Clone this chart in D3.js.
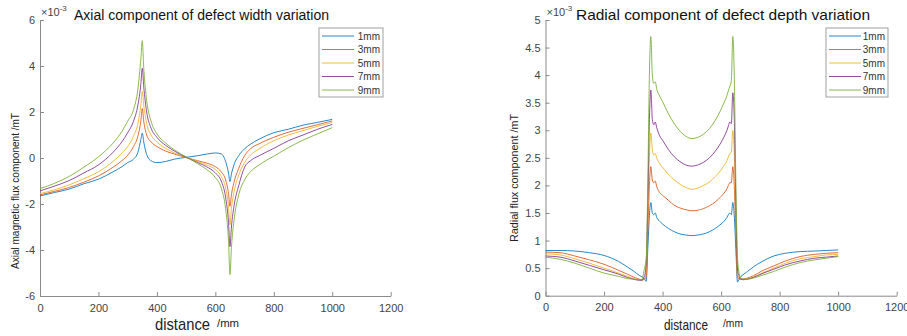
<!DOCTYPE html>
<html>
<head>
  <meta charset="utf-8">
  <title>Defect flux components</title>
  <script src="https://d3js.org/d3.v7.min.js"></script>
  <style>
    body { margin: 0; background: #fff; }
    svg { font-family: "Liberation Sans", Arial, sans-serif; }
    .axis path, .axis line { stroke: #8a8a8a; }
    .axis text { fill: #444; font-size: 11px; }
    .line { fill: none; stroke-width: 1; stroke-opacity: 0.85; }
    .legend-box { fill: #fff; stroke: #a0a0a0; stroke-width: 1; }
  </style>
</head>
<body>
  <svg width="907" height="336"></svg>
  <script>
    const seriesNames = ["1mm", "3mm", "5mm", "7mm", "9mm"]
    const colors = ["#0072BD", "#D95319", "#EDB120", "#7E2F8E", "#77AC30"]

    // left panel: axial component, defect width
    const axialX = [0, 50, 100, 150, 200, 250, 280, 300, 320, 335, 345, 350, 355, 365, 380, 400, 430, 460, 500,
      540, 570, 600, 620, 635, 645, 650, 655, 665, 680, 700, 720, 750, 800, 850, 900, 950, 1000]
    const axial1 = [-1.65, -1.5, -1.35, -1.12, -0.92, -0.6, -0.38, -0.2, -0.05, 0.25, 0.8, 1.08, 0.7, 0.15, -0.12, -0.2, -0.15, -0.05, 0.03,
      0.1, 0.17, 0.22, 0.18, -0.15, -0.65, -1.03, -0.7, -0.25, 0.1, 0.4, 0.6, 0.82, 1.1, 1.25, 1.43, 1.55, 1.68]
    const axial3 = [-1.6, -1.45, -1.28, -1.05, -0.78, -0.4, -0.12, 0.12, 0.5, 0.95, 1.6, 2.15, 1.6, 1.0, 0.7, 0.5, 0.3, 0.17, 0.02,
      -0.12, -0.22, -0.38, -0.6, -0.95, -1.55, -2.1, -1.6, -1.0, -0.45, 0.1, 0.4, 0.62, 0.9, 1.12, 1.29, 1.45, 1.61]
    const axial5 = [-1.55, -1.38, -1.17, -0.9, -0.6, -0.15, 0.2, 0.5, 0.95, 1.5, 2.3, 2.9, 2.3, 1.5, 1.0, 0.7, 0.42, 0.22, 0.02,
      -0.15, -0.3, -0.5, -0.8, -1.3, -2.1, -2.9, -2.2, -1.4, -0.75, -0.2, 0.12, 0.4, 0.75, 1.0, 1.19, 1.38, 1.54]
    const axial7 = [-1.43, -1.22, -0.98, -0.65, -0.3, 0.25, 0.7, 1.1, 1.6, 2.3, 3.2, 3.9, 3.1, 2.0, 1.3, 0.9, 0.55, 0.3, 0.03,
      -0.2, -0.38, -0.65, -1.0, -1.7, -2.8, -3.85, -3.0, -2.0, -1.2, -0.4, -0.12, 0.1, 0.42, 0.75, 1.0, 1.25, 1.46]
    const axial9 = [-1.33, -1.1, -0.8, -0.4, 0.05, 0.65, 1.15, 1.6, 2.1, 3.0, 4.3, 5.1, 3.9, 2.5, 1.6, 1.05, 0.65, 0.35, 0.05,
      -0.25, -0.5, -0.85, -1.3, -2.2, -3.6, -5.07, -3.9, -2.6, -1.6, -0.95, -0.6, -0.3, 0.08, 0.45, 0.78, 1.05, 1.32]
    const axialTicks = [-6, -4, -2, 0, 2, 4, 6]

    // right panel: radial component, defect depth
    const radialX = [0, 50, 100, 150, 200, 250, 280, 300, 320, 330, 338, 344, 350, 355, 360, 365, 370, 375, 380, 390,
      400, 420, 440, 460, 480, 500, 520, 540, 560, 580, 600, 610, 620, 625, 630, 635, 640, 645, 650, 656,
      662, 668, 675, 690, 710, 740, 780, 820, 870, 920, 960, 1000]
    const radial1 = [0.82, 0.82, 0.81, 0.78, 0.73, 0.62, 0.52, 0.45, 0.37, 0.34, 0.31, 0.26, 0.9, 1.45, 1.69, 1.5, 1.47, 1.5, 1.42, 1.35,
      1.3, 1.22, 1.16, 1.12, 1.1, 1.09, 1.1, 1.12, 1.16, 1.22, 1.3, 1.35, 1.42, 1.47, 1.5, 1.47, 1.69, 1.45, 0.9, 0.25,
      0.3, 0.35, 0.38, 0.44, 0.52, 0.62, 0.72, 0.77, 0.8, 0.81, 0.82, 0.83]
    const radial3 = [0.79, 0.78, 0.72, 0.65, 0.57, 0.46, 0.39, 0.34, 0.3, 0.29, 0.3, 0.35, 1.2, 2.0, 2.34, 2.1, 2.05, 2.08, 1.98, 1.87,
      1.82, 1.73, 1.64, 1.59, 1.56, 1.54, 1.55, 1.58, 1.63, 1.7, 1.8, 1.86, 1.94, 2.0, 2.05, 2.05, 2.34, 2.0, 1.2, 0.35,
      0.3, 0.3, 0.3, 0.32, 0.36, 0.45, 0.54, 0.63, 0.71, 0.75, 0.77, 0.78]
    const radial5 = [0.76, 0.74, 0.67, 0.59, 0.5, 0.41, 0.35, 0.31, 0.29, 0.28, 0.3, 0.45, 1.5, 2.5, 2.95, 2.65, 2.55, 2.58, 2.5, 2.39,
      2.33, 2.2, 2.1, 2.02, 1.96, 1.93, 1.95, 2.0, 2.06, 2.16, 2.28, 2.36, 2.45, 2.52, 2.58, 2.6, 3.0, 2.6, 1.5, 0.4,
      0.32, 0.3, 0.3, 0.31, 0.34, 0.41, 0.5, 0.59, 0.67, 0.71, 0.74, 0.75]
    const radial7 = [0.72, 0.7, 0.63, 0.55, 0.47, 0.39, 0.33, 0.3, 0.28, 0.28, 0.35, 0.6, 1.8, 3.2, 3.73, 3.2, 3.1, 3.15, 3.05, 2.9,
      2.82, 2.65, 2.52, 2.43, 2.37, 2.35, 2.37, 2.42, 2.5, 2.62, 2.78, 2.88, 3.0, 3.08, 3.15, 3.12, 3.68, 3.2, 1.8, 0.5,
      0.35, 0.3, 0.29, 0.3, 0.33, 0.4, 0.48, 0.56, 0.63, 0.68, 0.7, 0.72]
    const radial9 = [0.7, 0.66, 0.59, 0.5, 0.41, 0.35, 0.31, 0.3, 0.29, 0.3, 0.5, 0.65, 2.2, 4.0, 4.7, 4.0, 3.85, 3.88, 3.75, 3.62,
      3.52, 3.3, 3.12, 2.98, 2.89, 2.85, 2.87, 2.93, 3.03, 3.18, 3.38, 3.5, 3.63, 3.72, 3.8, 3.9, 4.7, 4.0, 2.2, 0.7,
      0.4, 0.32, 0.3, 0.3, 0.32, 0.37, 0.44, 0.52, 0.6, 0.65, 0.68, 0.71]
    const radialTicks = [0, 0.5, 1, 1.5, 2, 2.5, 3, 3.5, 4, 4.5, 5]

    const xTicks = [0, 200, 400, 600, 800, 1000, 1200]

    const svg = d3.select("svg")

    function drawPanel(p) {
      const x = d3.scaleLinear().domain([0, 1200]).range([p.left, p.right])
      const y = d3.scaleLinear().domain(p.yDomain).range([p.bottom, p.top])
      const g = svg.append("g")

      g.append("g")
        .attr("class", "axis")
        .attr("transform", `translate(0,${p.bottom})`)
        .call(d3.axisBottom(x).tickValues(xTicks).tickFormat(d3.format("d"))
          .tickSizeInner(-4).tickSizeOuter(0).tickPadding(8))

      g.append("g")
        .attr("class", "axis")
        .attr("transform", `translate(${p.left},0)`)
        .call(d3.axisLeft(y).tickValues(p.yTicks).tickFormat(d => d)
          .tickSizeInner(-4).tickSizeOuter(0).tickPadding(5))

      const line = d3.line().curve(d3.curveMonotoneX)
        .x((d, i) => x(p.xs[i]))
        .y(d => y(d))

      p.series.forEach((vals, i) => {
        g.append("path")
          .datum(vals)
          .attr("class", "line")
          .attr("stroke", colors[i])
          .attr("d", line)
      })

      // exponent marker
      const ex = g.append("text").attr("x", p.left + 1).attr("y", 16)
        .attr("fill", "#444").style("font-size", "11px")
      ex.append("tspan").text("×10")
      ex.append("tspan").attr("dy", -5).style("font-size", "8px").text("-3")

      g.append("text")
        .attr("x", p.titleX).attr("y", 19.5)
        .attr("fill", "#111")
        .style("font-size", p.titleSize + "px")
        .attr("textLength", p.titleLen).attr("lengthAdjust", "spacingAndGlyphs")
        .text(p.title)

      g.append("text")
        .attr("transform", `translate(${p.yLabelX},${p.yLabelY}) rotate(-90)`)
        .attr("fill", "#222")
        .style("font-size", "11px")
        .attr("textLength", p.yLabelLen).attr("lengthAdjust", "spacingAndGlyphs")
        .text(p.yLabel)

      g.append("text")
        .attr("x", p.xLabelX).attr("y", 330)
        .attr("fill", "#222")
        .style("font-size", p.xLabelSize + "px")
        .attr("textLength", p.xLabelLen).attr("lengthAdjust", "spacingAndGlyphs")
        .text("distance")
      g.append("text")
        .attr("x", p.unitX).attr("y", 327)
        .attr("fill", "#222")
        .style("font-size", "11px")
        .attr("textLength", p.unitLen).attr("lengthAdjust", "spacingAndGlyphs")
        .text("/mm")

      // legend
      const lg = g.append("g")
      lg.append("rect").attr("class", "legend-box")
        .attr("x", p.legX).attr("y", 28).attr("width", p.legW).attr("height", 69)
      seriesNames.forEach((name, i) => {
        const ly = 36 + i * 13.5
        lg.append("line")
          .attr("x1", p.legX + 3).attr("x2", p.legX + 35)
          .attr("y1", ly).attr("y2", ly)
          .attr("stroke", colors[i])
          .attr("stroke-opacity", 0.85)
        lg.append("text")
          .attr("x", p.legX + p.legW - 3).attr("y", ly + 3.5)
          .attr("text-anchor", "end")
          .attr("fill", "#333")
          .style("font-size", "10px")
          .text(name)
      })
    }

    drawPanel({
      left: 40, right: 390.7, top: 20, bottom: 296,
      yDomain: [-6, 6], yTicks: axialTicks,
      xs: axialX, series: [axial1, axial3, axial5, axial7, axial9],
      title: "Axial component of defect width variation", titleX: 74, titleLen: 255, titleSize: 14,
      yLabel: "Axial magnetic flux component /mT", yLabelX: 19, yLabelY: 269, yLabelLen: 156,
      xLabelX: 155, xLabelLen: 55, xLabelSize: 17, unitX: 217, unitLen: 22,
      legX: 319, legW: 64
    })

    drawPanel({
      left: 545.5, right: 896.7, top: 20, bottom: 295.7,
      yDomain: [0, 5], yTicks: radialTicks,
      xs: radialX, series: [radial1, radial3, radial5, radial7, radial9],
      title: "Radial component of defect depth variation", titleX: 576, titleLen: 294, titleSize: 15,
      yLabel: "Radial flux component /mT", yLabelX: 518, yLabelY: 242, yLabelLen: 128,
      xLabelX: 664, xLabelLen: 44, xLabelSize: 15, unitX: 723, unitLen: 20,
      legX: 826, legW: 62
    })
  </script>
</body>
</html>
